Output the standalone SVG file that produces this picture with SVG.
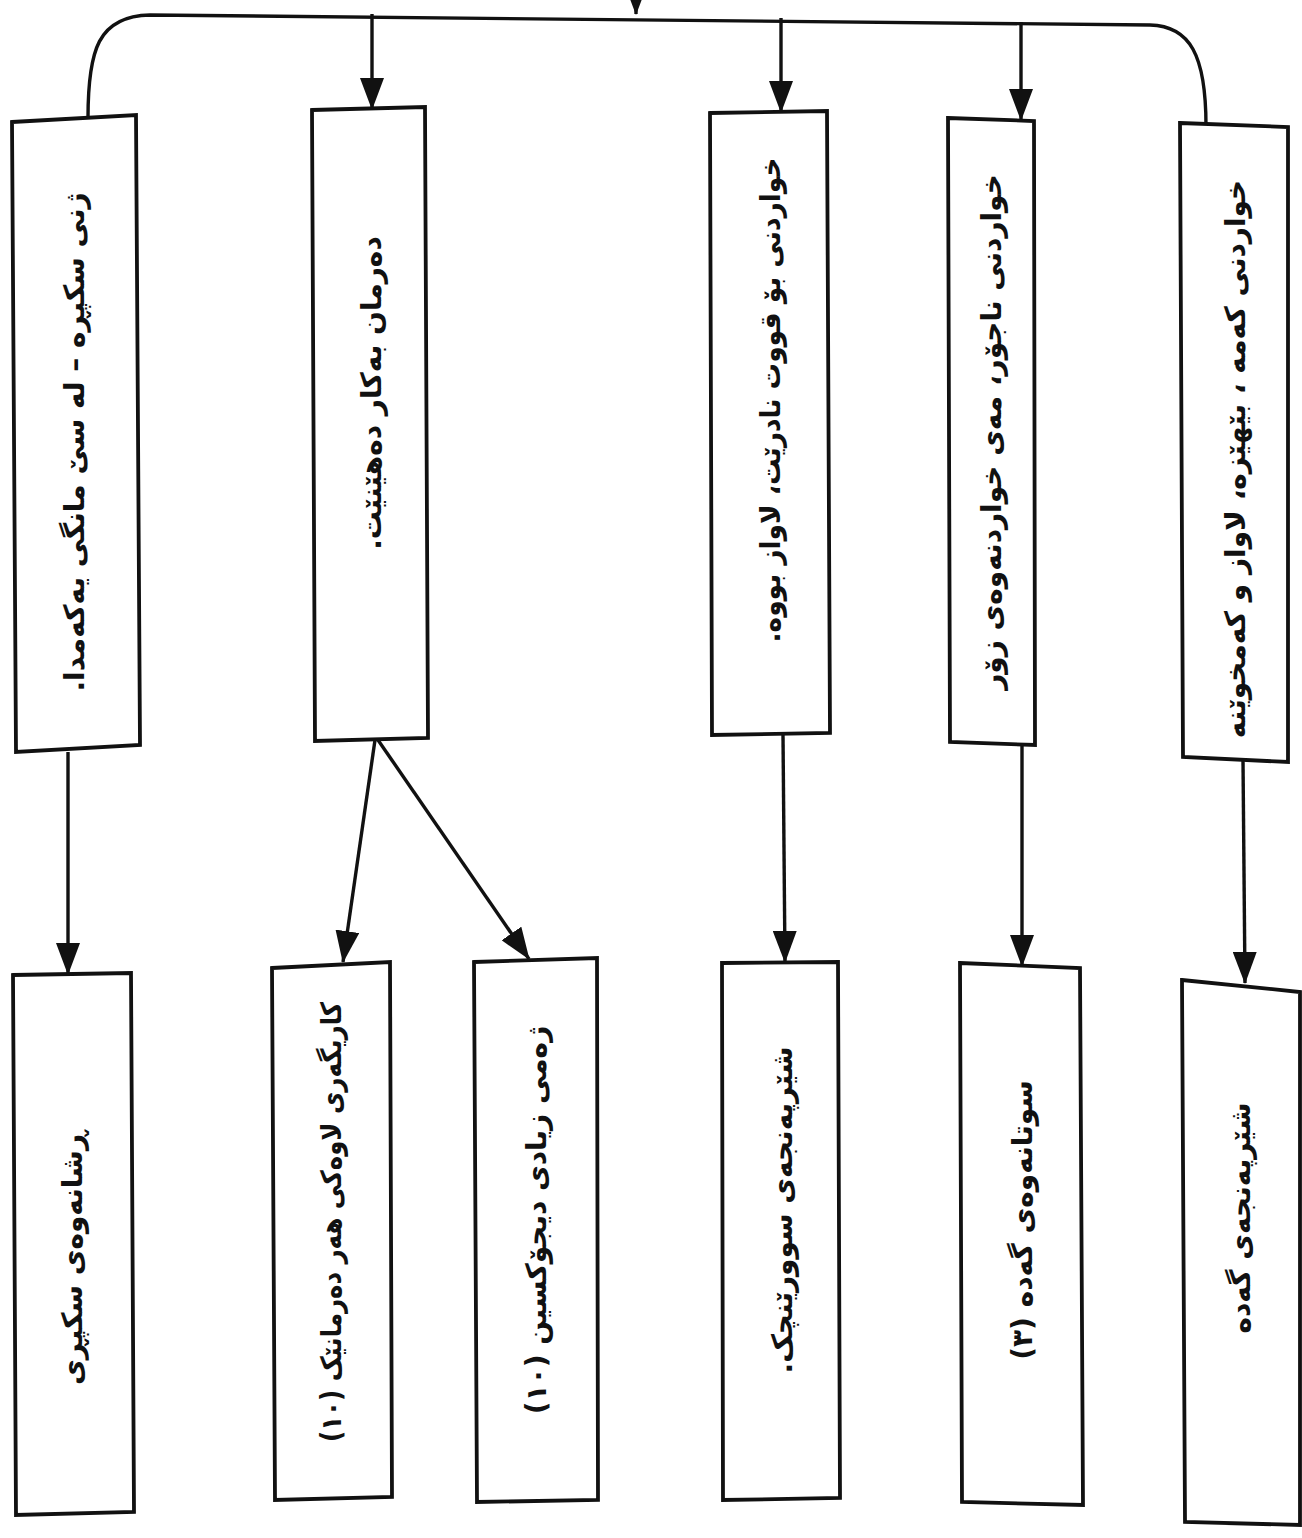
<svg xmlns="http://www.w3.org/2000/svg" width="1302" height="1538" viewBox="0 0 1302 1538">
  <style>
    .box { fill: #ffffff; stroke: #111111; stroke-width: 3.8; stroke-linejoin: miter; }
    .lbl { font-family: "DejaVu Sans", "Noto Sans", sans-serif; font-weight: bold; font-size: 28px; fill: #111111; text-anchor: middle; dominant-baseline: central; direction: rtl; unicode-bidi: embed; }
    .wire { fill: none; stroke: #111111; stroke-width: 3.4; }
  </style>
  <defs>
    <marker id="head" viewBox="0 0 32 24" refX="31" refY="12" markerWidth="32" markerHeight="24" markerUnits="userSpaceOnUse" orient="auto">
      <path d="M0,0 L32,12 L0,24 z" fill="#111111"/>
    </marker>
  </defs>
  <rect x="0" y="0" width="1302" height="1538" fill="#ffffff"/>

  <!-- connectors -->
  <g id="connectors">
    <line class="wire" x1="636" y1="-30" x2="636" y2="14" marker-end="url(#head)"/>
    <path class="wire" d="M88,118 C88,50 98,16 150,15 L1150,25 C1190,26 1206,55 1206,126"/>
    <line class="wire" x1="372" y1="14" x2="372" y2="109" marker-end="url(#head)"/>
    <line class="wire" x1="781" y1="18" x2="781" y2="112" marker-end="url(#head)"/>
    <line class="wire" x1="1021" y1="22" x2="1021" y2="120" marker-end="url(#head)"/>
    <line class="wire" x1="68" y1="752" x2="68" y2="974" marker-end="url(#head)"/>
    <line class="wire" x1="375" y1="740" x2="343" y2="962" marker-end="url(#head)"/>
    <line class="wire" x1="378" y1="740" x2="529" y2="959" marker-end="url(#head)"/>
    <line class="wire" x1="783" y1="735" x2="785" y2="962" marker-end="url(#head)"/>
    <line class="wire" x1="1022" y1="745" x2="1022" y2="966" marker-end="url(#head)"/>
    <line class="wire" x1="1243" y1="760" x2="1245" y2="983" marker-end="url(#head)"/>
  </g>

  <!-- upper row: causes -->
  <g id="n-pregnancy">
    <polygon class="box" points="12,122 136,115 140,745 16,752"/>
    <text class="lbl" transform="translate(74,442) rotate(-90)">ژنی سکپڕە – لە سێ مانگی یەکەمدا.</text>
  </g>
  <g id="n-medication">
    <polygon class="box" points="312,110 425,107 428,738 315,741"/>
    <text class="lbl" transform="translate(371,393) rotate(-90)">دەرمان بەکار دەهێنێت.</text>
  </g>
  <g id="n-swallowing">
    <polygon class="box" points="710,113 827,111 830,733 712,735"/>
    <text class="lbl" transform="translate(770,400) rotate(-90)" textLength="485" lengthAdjust="spacingAndGlyphs">خواردنی بۆ قووت نادرێت، لاواز بووە.</text>
  </g>
  <g id="n-diet">
    <polygon class="box" points="948,118 1034,121 1035,745 950,742"/>
    <text class="lbl" transform="translate(991,432) rotate(-90)">خواردنی ناجۆر، مەی خواردنەوەی زۆر</text>
  </g>
  <g id="n-weakness">
    <polygon class="box" points="1180,123 1288,127 1288,762 1183,757"/>
    <text class="lbl" transform="translate(1235,459) rotate(-90)">خواردنی کەمە ، بێهێزە، لاواز و کەمخوێنە</text>
  </g>

  <!-- lower row: outcomes -->
  <g id="n-morning-sickness">
    <polygon class="box" points="13,975 131,973 134,1512 16,1515"/>
    <text class="lbl" transform="translate(72,1258) rotate(-90)">ڕشانەوەی سکپڕی</text>
  </g>
  <g id="n-side-effects">
    <polygon class="box" points="272,968 390,962 392,1497 275,1500"/>
    <text class="lbl" transform="translate(331,1222) rotate(-90)" textLength="440" lengthAdjust="spacingAndGlyphs">کاریگەری لاوەکی هەر دەرمانێک (١٠)</text>
  </g>
  <g id="n-digoxin">
    <polygon class="box" points="474,962 597,958 598,1500 477,1502"/>
    <text class="lbl" transform="translate(536,1220) rotate(-90)">ژەمی زیادی دیجۆکسین (١٠)</text>
  </g>
  <g id="n-esophagus">
    <polygon class="box" points="722,963 838,962 840,1498 723,1500"/>
    <text class="lbl" transform="translate(782,1210) rotate(-90)">شێرپەنجەی سوورێنچک.</text>
  </g>
  <g id="n-gastritis">
    <polygon class="box" points="960,963 1080,968 1083,1505 962,1502"/>
    <text class="lbl" transform="translate(1022,1220) rotate(-90)">سوتانەوەی گەدە (٣)</text>
  </g>
  <g id="n-stomach-cancer">
    <polygon class="box" points="1182,980 1300,992 1300,1525 1185,1522"/>
    <text class="lbl" transform="translate(1240,1218) rotate(-90)">شێرپەنجەی گەدە</text>
  </g>
</svg>
